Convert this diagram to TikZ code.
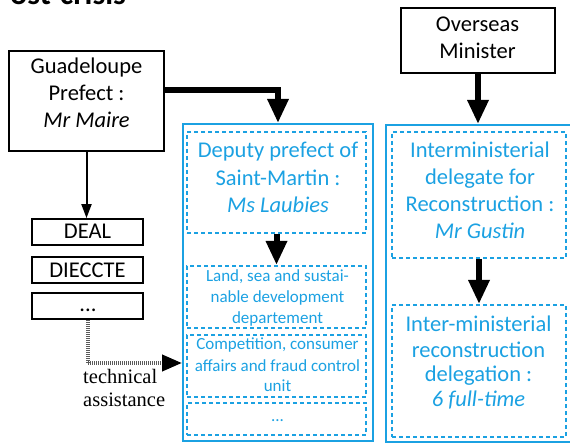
\documentclass[tikz,border=0pt]{standalone}
\usepackage{fontspec}
\setmainfont{Carlito}
\newfontfamily\altserif{Liberation Serif}
\usetikzlibrary{arrows.meta}
\definecolor{cblue}{RGB}{27,161,226}
\definecolor{dotgray}{RGB}{90,90,90}
\newcommand{\mlines}[3]{{\fontsize{#1}{#2}\selectfont\begin{tabular}[t]{@{}c@{}}#3\end{tabular}}}
\begin{document}
\begin{tikzpicture}[x=1pt,y=-1pt,
  blackbox/.style={draw=black, line width=1.8pt, rectangle, inner sep=0pt},
  outerblue/.style={draw=cblue, line width=2pt, rectangle, inner sep=0pt},
  dashblue/.style={draw=cblue, line width=2pt, dash pattern=on 4pt off 3pt, rectangle, inner sep=0pt},
  lbl/.style={anchor=base, inner sep=0pt, text=black},
  bluelbl/.style={anchor=base, inner sep=0pt, text=cblue},
  thickarrow/.style={line width=6pt, -{Triangle[length=24pt,width=20pt]}},
  thinarrow/.style={line width=2pt, -{Triangle[length=14pt,width=10pt]}},
  dotarrow/.style={line width=4pt, draw=dotgray, dash pattern=on 1pt off 1pt,
    -{Triangle[length=20pt,width=16pt,color=black]}}
]
\useasboundingbox (0,0) rectangle (570,443);

% title (cut by the page top, as in the reference)
\node[anchor=base west, inner sep=0pt, font=\fontsize{32}{38}\selectfont\bfseries] (title) at (10,5) {ost-crisis};

% black boxes
\node[blackbox, minimum width=155pt, minimum height=100pt] (gp) at (86.5,101) {};
\node[blackbox, minimum width=154pt, minimum height=65pt] (ov) at (478,40.5) {};
\node[blackbox, minimum width=111pt, minimum height=26pt] (deal) at (87.5,232) {};
\node[blackbox, minimum width=111pt, minimum height=26pt] (diec) at (87.5,270) {};
\node[blackbox, minimum width=111pt, minimum height=26pt] (etc) at (87.5,306) {};

% blue outer boxes
\node[outerblue, minimum width=190pt, minimum height=317pt] (lout) at (278,282.5) {};
\node[outerblue, minimum width=194pt, minimum height=317pt] (rout) at (483,283.5) {};

% blue dashed boxes
\node[dashblue, minimum width=179pt, minimum height=101pt] (dep) at (276.5,182.5) {};
\node[dashblue, minimum width=179pt, minimum height=62pt] (land) at (276.5,297) {};
\node[dashblue, minimum width=179pt, minimum height=62pt] (comp) at (276.5,366) {};
\node[dashblue, minimum width=179pt, minimum height=32pt] (more) at (276.5,419) {};
\node[dashblue, minimum width=174pt, minimum height=126pt] (inter) at (479,195) {};
\node[dashblue, minimum width=174pt, minimum height=132pt] (deleg) at (479,371) {};

% texts
\node[lbl] (gpt) at (86.5,74) {\mlines{22.5}{27}{Guadeloupe\\Prefect :\\\textit{Mr Maire}}};
\node[lbl] (ovt) at (477.5,32) {\mlines{22.5}{27}{Overseas\\Minister}};
\node[lbl] (dealt) at (87.5,239) {\mlines{22.5}{27}{DEAL}};
\node[lbl] (diect) at (87.5,278) {\mlines{22.5}{27}{DIECCTE}};
\node[lbl] (etct) at (88,312) {\mlines{22.5}{27}{...}};
\node[bluelbl] (dept) at (278,158) {\mlines{22.5}{27.5}{Deputy prefect of\\Saint-Martin :\\\textit{Ms Laubies}}};
\node[bluelbl] (landt) at (277.5,282) {\mlines{17}{21}{Land, sea and sustai-\\nable development\\departement}};
\node[bluelbl] (compt) at (277.5,350) {\mlines{17}{21}{Competition, consumer\\affairs and fraud control\\unit}};
\node[bluelbl] (moret) at (277.5,421) {\mlines{17}{21}{...}};
\node[bluelbl] (intert) at (480,158) {\mlines{22.5}{27}{Interministerial\\delegate for\\Reconstruction :\\\textit{Mr Gustin}}};
\node[bluelbl] (delegt) at (478.5,332) {\mlines{22.5}{25}{Inter-ministerial\\reconstruction\\delegation :\\\textit{6 full-time}}};
\node[anchor=base west, inner sep=0pt] (tech) at (83,383)
  {{\altserif\fontsize{20.5}{24}\selectfont\begin{tabular}[t]{@{}l@{}}technical\\assistance\end{tabular}}};

% connectors
\coordinate (gpout) at ([yshift=11pt]gp.east);
\draw[thickarrow, line join=miter] (gpout) -| (lout.north);
\draw[thickarrow] (ov.south) -- (ov.south |- rout.north);
\draw[thickarrow] (dep.south) -- (land.north);
\draw[thickarrow] (inter.south) -- (deleg.north);
\draw[thinarrow] (gp.south) -- (gp.south |- deal.north);
\coordinate (ta) at (lout.west |- 0,363);
\draw[dotarrow] (etc.south) |- (ta);
\end{tikzpicture}
\end{document}
